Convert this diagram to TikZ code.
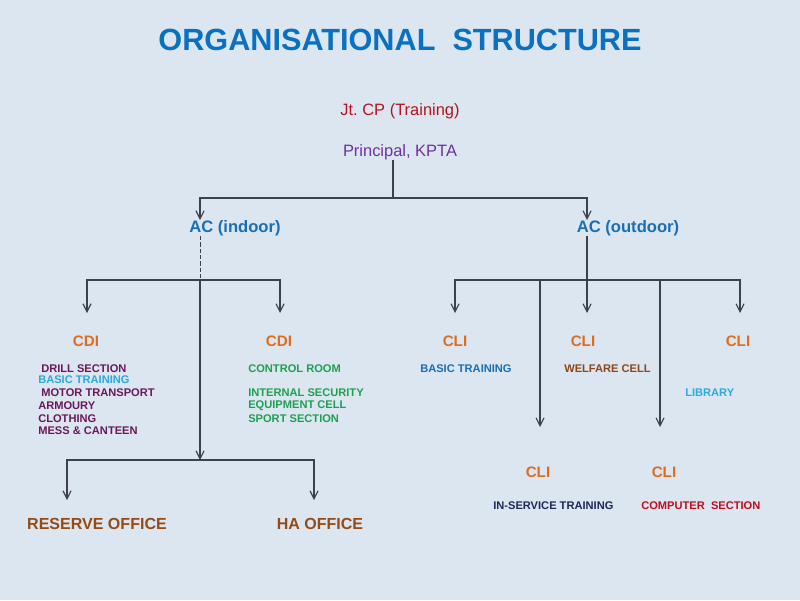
\documentclass[tikz,border=0pt]{standalone}
\usepackage{fontspec}
\setmainfont{Liberation Sans}
\usetikzlibrary{arrows.meta}
\definecolor{bgblue}{RGB}{220,230,241}
\definecolor{titleblue}{RGB}{10,112,192}
\definecolor{acblue}{RGB}{25,110,180}
\definecolor{jtred}{RGB}{180,20,30}
\definecolor{prinpurple}{RGB}{112,48,160}
\definecolor{rankorange}{RGB}{222,110,30}
\definecolor{secpurple}{RGB}{105,25,90}
\definecolor{skyblue}{RGB}{41,170,225}
\definecolor{secgreen}{RGB}{30,160,80}
\definecolor{welbrown}{RGB}{140,70,25}
\definecolor{navy}{RGB}{30,40,90}
\definecolor{comred}{RGB}{190,15,30}
\definecolor{offbrown}{RGB}{150,75,20}
\definecolor{linegray}{RGB}{60,65,75}

\begin{document}
\begin{tikzpicture}[x=0.025cm,y=-0.025cm,>={Straight Barb[length=2mm,width=2mm]},
  conn/.style={draw=linegray,line width=0.8pt},
  rank/.style={font=\fontsize{10.8}{12}\selectfont\bfseries,text=rankorange,inner sep=0pt},
  sec/.style={font=\fontsize{7.9}{9}\selectfont\bfseries,inner sep=0pt,anchor=west},
  office/.style={font=\fontsize{11.4}{13}\selectfont\bfseries,text=offbrown,inner sep=0pt}]
\fill[bgblue] (0,0) rectangle (800,600);
% heads
\node[font=\fontsize{21.8}{24}\selectfont\bfseries,text=titleblue,inner sep=0pt] (title) at (400,40) {ORGANISATIONAL\ \ STRUCTURE};
\node[font=\fontsize{11.7}{13}\selectfont,text=jtred,inner sep=0pt] (jtcp) at (400,111) {Jt.\ CP (Training)};
\node[font=\fontsize{11.7}{13}\selectfont,text=prinpurple,inner sep=0pt] (prin) at (400,152) {Principal, KPTA};
\node[font=\fontsize{11.8}{13}\selectfont\bfseries,text=acblue,inner sep=0pt] (acin) at (235,228) {AC (indoor)};
\node[font=\fontsize{11.8}{13}\selectfont\bfseries,text=acblue,inner sep=0pt] (acout) at (628,228) {AC (outdoor)};
% ranks
\node[rank] (cdiA) at (86,341) {CDI};
\node[rank] (cdiB) at (279,341) {CDI};
\node[rank] (cliA) at (455,341) {CLI};
\node[rank] (cliB) at (583,341) {CLI};
\node[rank] (cliC) at (738,341) {CLI};
\node[rank] (cliD) at (538,472) {CLI};
\node[rank] (cliE) at (664,472) {CLI};
% sections
\node[sec,text=secpurple] (drill) at (41,369) {DRILL SECTION};
\node[sec,text=skyblue] (basicA) at (38,380) {BASIC TRAINING};
\node[sec,text=secpurple] (motor) at (41,393) {MOTOR TRANSPORT};
\node[sec,text=secpurple] (armoury) at (38,406) {ARMOURY};
\node[sec,text=secpurple] (cloth) at (38,419) {CLOTHING};
\node[sec,text=secpurple] (mess) at (38,431) {MESS \& CANTEEN};
\node[sec,text=secgreen] (control) at (248,369) {CONTROL ROOM};
\node[sec,text=secgreen] (security) at (248,393) {INTERNAL SECURITY};
\node[sec,text=secgreen] (equip) at (248,406) {EQUIPMENT CELL};
\node[sec,text=secgreen] (sport) at (248,419) {SPORT SECTION};
\node[sec,text=acblue] (basicB) at (420,369) {BASIC TRAINING};
\node[sec,text=welbrown] (welfare) at (564,369) {WELFARE CELL};
\node[sec,text=skyblue] (library) at (685,393) {LIBRARY};
\node[sec,text=navy] (inserv) at (493,506) {IN-SERVICE TRAINING};
\node[sec,text=comred] (computer) at (641,506) {COMPUTER\ \ SECTION};
% offices
\node[office] (reserve) at (97,524) {RESERVE OFFICE};
\node[office] (haoff) at (320,524) {HA OFFICE};
% junctions and arrow ends
\coordinate (topJ) at (393,198);
\coordinate (midL) at (200,280);
\coordinate (lowJ) at (200,460);
\coordinate (midR) at (587,280);
\coordinate (acinIn) at (200,220);
\coordinate (acoutIn) at (587,220);
\coordinate (cdiAIn) at (87,313);
\coordinate (cdiBIn) at (280,313);
\coordinate (cliAIn) at (455,313);
\coordinate (cliBIn) at (587,313);
\coordinate (cliCIn) at (740,313);
\coordinate (cliDIn) at (540,427);
\coordinate (cliEIn) at (660,427);
\coordinate (resIn) at (67,500);
\coordinate (haIn) at (314,500);
% connectors
\draw[conn] (prin.south -| topJ) -- (topJ);
\draw[conn,->] (topJ) -| (acinIn);
\draw[conn,->] (topJ) -| (acoutIn);
\draw[conn,line width=0.7pt,dash pattern=on 3pt off 1.5pt] (acin.south -| midL) -- (midL);
\draw[conn,->] (midL) -| (cdiAIn);
\draw[conn,->] (midL) -| (cdiBIn);
\draw[conn,->] (midL) -- (lowJ);
\draw[conn,->] (lowJ) -| (resIn);
\draw[conn,->] (lowJ) -| (haIn);
\draw[conn,->] (acout.south -| midR) -- (cliBIn);
\draw[conn,->] (midR) -| (cliAIn);
\draw[conn,->] (midR) -| (cliCIn);
\draw[conn,->] (midR) -| (cliDIn);
\draw[conn,->] (midR) -| (cliEIn);
\end{tikzpicture}
\end{document}
